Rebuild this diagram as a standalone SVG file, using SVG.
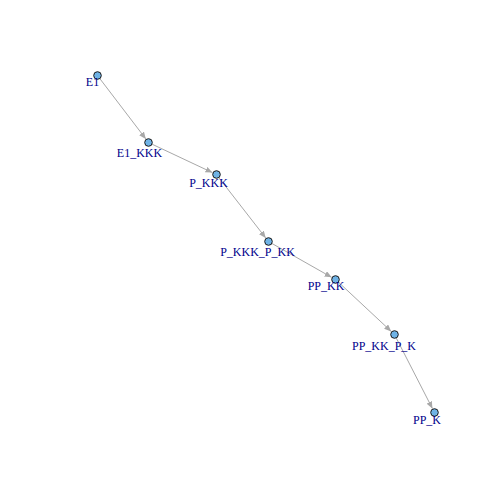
<svg xmlns="http://www.w3.org/2000/svg" width="504" height="504" viewBox="0 0 504 504">
<style>
.edge{stroke:#A8A8A8;stroke-width:1;fill:none;marker-end:url(#arr)}
.node circle{fill:#6FB3E6;stroke:#1a1a1a;stroke-width:1}
.node text{font-family:"Liberation Serif",serif;font-size:12px;fill:#00008B;text-anchor:middle}
</style>
<defs>
<marker id="arr" markerUnits="userSpaceOnUse" markerWidth="8" markerHeight="6" refX="7" refY="3" orient="auto">
<path d="M0,0 L7,3 L0,6 Z" fill="#A8A8A8"/>
</marker>
</defs>
<rect width="504" height="504" fill="#ffffff"/>
<g id="edges">
<line class="edge" x1="99.9" y1="78.7" x2="145.8" y2="138.9"/>
<line class="edge" x1="152.1" y1="144.2" x2="212.4" y2="172.6"/>
<line class="edge" x1="218.9" y1="177.7" x2="265.7" y2="237.9"/>
<line class="edge" x1="272" y1="243.5" x2="331.6" y2="277.3"/>
<line class="edge" x1="337.4" y1="281.2" x2="391.2" y2="331.4"/>
<line class="edge" x1="396.3" y1="338.1" x2="432.4" y2="408.5"/>
</g>
<g id="node-E1" class="node"><circle cx="97.5" cy="75.5" r="3.8"/><text x="92.5" y="86">E1</text></g>
<g id="node-E1_KKK" class="node"><circle cx="148.5" cy="142.5" r="3.8"/><text x="139.5" y="156.5">E1_KKK</text></g>
<g id="node-P_KKK" class="node"><circle cx="216.5" cy="174.5" r="3.8"/><text x="208.5" y="187">P_KKK</text></g>
<g id="node-P_KKK_P_KK" class="node"><circle cx="268.5" cy="241.5" r="3.8"/><text x="257.5" y="256">P_KKK_P_KK</text></g>
<g id="node-PP_KK" class="node"><circle cx="335.5" cy="279.5" r="3.8"/><text x="326" y="290">PP_KK</text></g>
<g id="node-PP_KK_P_K" class="node"><circle cx="394.5" cy="334.5" r="3.8"/><text x="384" y="349.5">PP_KK_P_K</text></g>
<g id="node-PP_K" class="node"><circle cx="434.5" cy="412.5" r="3.8"/><text x="427" y="423.5">PP_K</text></g>
</svg>
